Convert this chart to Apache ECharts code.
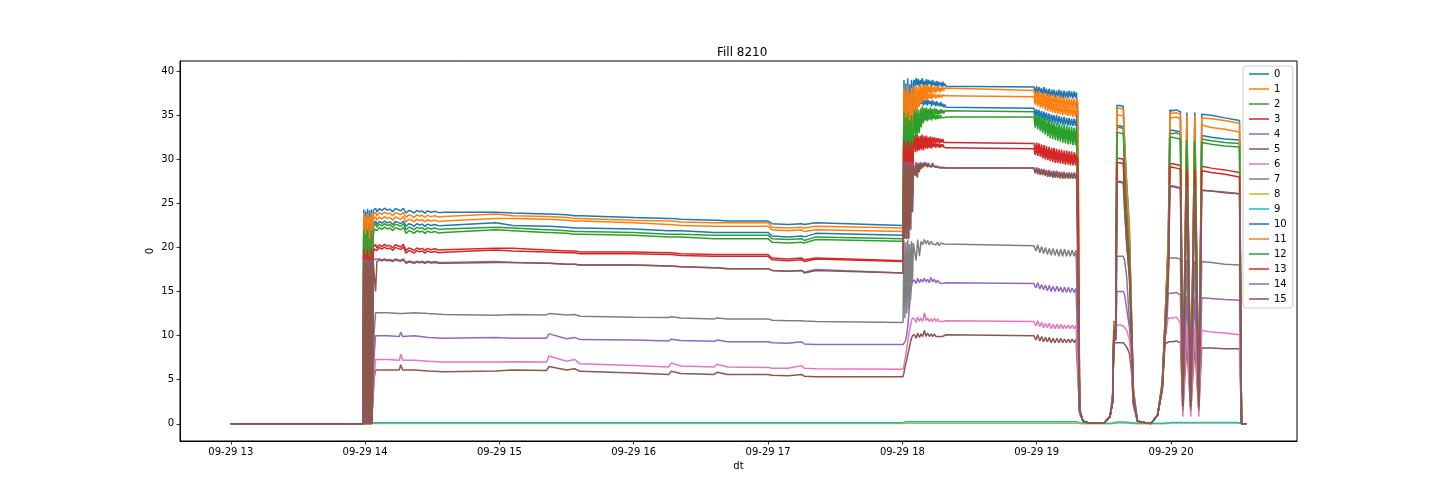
<!DOCTYPE html>
<html>
<head>
<meta charset="utf-8">
<script src="https://cdn.jsdelivr.net/npm/echarts@6/dist/echarts.min.js"></script>
<style>
html,body{margin:0;padding:0;background:#fff;}
#chart{width:1440px;height:504px;}
</style>
</head>
<body>
<div id="chart"></div>
<script>
// ---- time stamps (hours of 2023-09-29) ----
// T_HI: used by the upper series 0,1,2,3,10,11,12,13,14,15 (denser where their traces are noisy)
const T_HI = [
13.00, 13.985,
13.990, 13.997, 14.004, 14.011, 14.018, 14.025, 14.032, 14.039, 14.046, 14.053, 14.060,
14.068, 14.078, 14.088, 14.105, 14.125, 14.145, 14.165, 14.185, 14.205, 14.225, 14.245, 14.265, 14.285,
14.305, 14.325, 14.345, 14.365, 14.385, 14.405, 14.425, 14.445, 14.465, 14.49, 14.52, 14.55, 14.586,
14.973, 15.10, 15.35, 15.37, 15.50, 15.56, 15.60, 16.00, 16.26, 16.28, 16.35, 16.60, 16.62, 16.70,
17.00, 17.03, 17.15, 17.25, 17.27, 17.356,
18.005,
18.012, 18.019, 18.026, 18.033, 18.040, 18.047, 18.054, 18.061, 18.068, 18.075, 18.082,
18.088, 18.096, 18.103, 18.111, 18.118, 18.126, 18.134, 18.141, 18.149, 18.156, 18.164, 18.172, 18.179, 18.187, 18.194, 18.202,
18.210, 18.217, 18.225, 18.232, 18.240, 18.248, 18.255, 18.263, 18.270, 18.278, 18.286, 18.293, 18.301, 18.308, 18.316, 18.324,
18.980, 18.989, 18.999, 19.008, 19.017, 19.027, 19.036, 19.045, 19.055, 19.064, 19.073, 19.083, 19.092, 19.101, 19.111, 19.120, 19.129, 19.139,
19.148, 19.157, 19.167, 19.176, 19.185, 19.195, 19.204, 19.213, 19.223, 19.232, 19.241, 19.251, 19.260, 19.269, 19.279, 19.288, 19.297, 19.307,
19.32, 19.345, 19.40,
19.50, 19.545, 19.565, 19.575, 19.59, 19.597,
19.62, 19.645,
19.655, 19.67, 19.69, 19.705, 19.72, 19.75,
19.85,
19.90, 19.935, 19.955, 19.965, 19.98, 19.992,
20.01, 20.04, 20.07,
20.088, 20.118, 20.147, 20.177, 20.207, 20.229,
20.30, 20.40, 20.51,
20.525, 20.56
];
// T_LO: used by the lower series 4,5,6,7
const T_LO = [
13.00, 13.985,
13.990, 13.997, 14.004, 14.011, 14.018, 14.025, 14.032, 14.039, 14.046, 14.053, 14.060,
14.068, 14.078, 14.088, 14.17, 14.255, 14.265, 14.28, 14.37, 14.47, 14.586,
14.973, 15.10, 15.35, 15.37, 15.50, 15.56, 15.60, 16.00, 16.26, 16.28, 16.35, 16.60, 16.62, 16.70,
17.00, 17.03, 17.15, 17.25, 17.27, 17.356,
18.005,
18.012, 18.019, 18.026, 18.033, 18.040, 18.047, 18.054, 18.061, 18.068, 18.075, 18.082,
18.090, 18.102, 18.114, 18.127, 18.139, 18.151, 18.164, 18.176, 18.188, 18.201,
18.213, 18.225, 18.238, 18.250, 18.262, 18.275, 18.287, 18.299, 18.312, 18.324,
18.980, 18.994, 19.008, 19.023, 19.037, 19.051, 19.065, 19.080, 19.094, 19.108, 19.122, 19.136,
19.151, 19.165, 19.179, 19.193, 19.207, 19.222, 19.236, 19.250, 19.264, 19.279, 19.293, 19.307,
19.32, 19.345, 19.40,
19.50, 19.545, 19.565, 19.575, 19.59, 19.597,
19.62, 19.645,
19.655, 19.67, 19.69, 19.705, 19.72, 19.75,
19.85,
19.90, 19.935, 19.955, 19.965, 19.98, 19.992,
20.01, 20.04, 20.07,
20.088, 20.118, 20.147, 20.177, 20.207, 20.229,
20.30, 20.40, 20.51,
20.525, 20.56
];

const s0 = [0,0,
24.3,0,24.1,0,24.4,0,24.2,0,24.3,0,24.2,
24.25,24.45,24.05,24.4,24.2,24.45,24.25,24.35,24.05,24.4,24.3,24.15,24.45,
23.9,24.2,24.1,23.9,24.2,24.05,24.15,23.9,24.15,24.0,24.1,23.95,24.0,
24.0,23.9,23.8,23.8,23.7,23.6,23.6,23.4,23.3,23.3,23.2,23.1,23.1,23.0,
23.0,22.7,22.6,22.7,22.6,22.8,
22.5,
39.0,24,38.6,24,39.2,24,38.5,25,39.0,26,38.7,
39.0,38.3,39.2,38.4,39.1,38.2,39.0,38.5,39.2,38.3,38.9,38.4,39.1,38.3,39.0,38.5,38.9,38.2,39.0,38.4,38.8,38.3,38.9,38.2,38.8,38.4,38.7,38.2,38.8,38.3,38.6,38.3,
38.2,37.5,38.3,37.4,38.2,37.5,38.1,37.3,38.2,37.4,38.0,37.2,38.0,37.1,37.9,37.2,37.9,37.0,37.8,37.1,37.9,37.0,37.8,36.9,37.8,37.0,37.7,36.9,37.8,37.0,37.7,36.9,37.7,37.0,37.6,37.5,
1.5,0.3,0.05,
0.1,0.8,2.5,11.6,11.6,36.1,
36.1,36.0,
32.0,27.5,22.4,13.0,4.0,0.3,
0.02,
1.0,4.8,11.6,11.7,21.4,35.6,
35.5,35.6,35.4,
2.0,35.3,2.0,35.3,2.0,35.1,
35.0,34.7,34.4,
0,0];

const s1 = [0,0,
23.9,0,23.6,0,23.8,0,23.5,0,23.9,0,23.7,
23.8,24.0,23.6,23.95,23.75,24.0,23.8,23.9,23.6,23.95,23.85,23.7,24.0,
23.4,23.7,23.6,23.4,23.7,23.55,23.65,23.4,23.65,23.5,23.6,23.45,23.5,
23.8,23.6,23.5,23.5,23.4,23.3,23.3,23.1,23.0,23.0,22.9,22.8,22.8,22.8,
22.8,22.3,22.2,22.3,22.2,22.4,
22.2,
38.2,24,37.8,24,38.3,24,37.5,25,38.1,26,37.2,
38.3,36.0,38.4,35.8,38.2,36.5,38.5,36.9,38.3,37.2,38.4,37.4,38.5,37.3,38.3,37.5,38.4,37.4,38.2,37.6,38.3,37.5,38.2,37.7,38.3,37.6,38.1,37.7,38.2,37.8,38.1,38.0,
37.8,36.8,37.7,36.7,37.8,36.6,37.6,36.5,37.5,36.4,37.5,36.3,37.4,36.2,37.3,36.1,37.3,36.0,37.2,36.0,37.1,35.9,37.1,35.9,37.0,35.8,37.0,35.8,36.9,35.8,36.9,35.7,36.9,35.8,36.8,36.4,
1.5,0.3,0.05,
0.1,0.8,2.5,11.5,11.5,35.8,
35.8,35.7,
31.3,27.0,22.0,12.8,3.8,0.3,
0.02,
1.0,4.7,11.5,11.6,21.0,35.3,
35.2,35.3,35.1,
2.0,35.0,2.0,35.0,2.0,34.7,
34.6,34.4,34.1,
0,0];

const s2 = [0,0,
22.4,0,22.2,0,22.5,0,22.3,0,22.4,0,22.3,
22.5,22.7,22.3,22.65,22.45,22.7,22.5,22.6,22.3,22.65,22.55,22.4,22.7,
22.0,22.3,22.2,22.0,22.3,22.15,22.25,22.0,22.25,22.1,22.2,22.05,22.1,
22.3,22.2,22.0,22.0,21.9,21.8,21.8,21.7,21.5,21.5,21.5,21.4,21.4,21.4,
21.4,21.0,20.9,21.0,20.8,21.2,
21.0,
35.8,24,35.4,24,35.9,24,35.0,25,35.6,26,34.5,
35.8,33.0,35.9,32.8,35.6,33.5,35.8,34.0,36.0,34.6,35.8,34.9,35.9,34.8,35.7,35.0,35.9,34.9,35.7,35.0,35.8,35.1,35.7,35.0,35.6,35.1,35.7,35.2,35.6,35.2,35.5,35.4,
35.4,34.2,35.2,34.0,35.1,33.8,34.9,33.6,34.8,33.4,34.6,33.2,34.5,33.0,34.4,32.9,34.2,32.8,34.1,32.7,34.0,32.6,33.9,32.5,33.9,32.4,33.8,32.3,33.7,32.3,33.7,32.2,33.6,32.2,33.6,33.4,
1.5,0.3,0.05,
0.1,0.8,2.5,11.2,11.2,33.6,
33.6,33.5,
29.3,24.5,19.8,11.9,3.3,0.3,
0.02,
1.0,4.4,11.0,11.1,19.1,33.0,
32.9,33.0,32.8,
2.0,32.7,2.0,32.6,2.0,32.3,
32.1,31.9,31.8,
0,0];

const s3 = [0,0,
20.2,0,20.0,0,20.3,0,20.1,0,20.2,0,20.0,
20.15,20.35,19.95,20.3,20.1,20.35,20.15,20.25,19.95,20.3,20.2,20.05,20.35,
19.65,19.95,19.85,19.65,19.95,19.8,19.9,19.65,19.9,19.75,19.85,19.7,19.75,
19.9,19.9,19.7,19.7,19.6,19.6,19.5,19.5,19.4,19.4,19.3,19.2,19.2,19.2,
19.2,18.8,18.7,18.8,18.6,18.8,
18.5,
32.6,24,32.2,24,32.7,24,32.0,25,32.5,26,32.2,
32.7,31.4,32.8,31.5,32.6,31.6,32.7,31.7,32.8,31.6,32.6,31.8,32.7,31.7,32.5,31.8,32.6,31.7,32.5,31.9,32.5,31.8,32.4,31.9,32.4,31.8,32.3,31.9,32.3,31.9,32.1,31.9,
31.8,31.0,31.9,30.9,31.8,30.8,31.7,30.6,31.6,30.5,31.5,30.4,31.4,30.3,31.3,30.2,31.3,30.1,31.2,30.0,31.1,29.9,31.1,29.9,31.0,29.8,31.0,29.8,30.9,29.7,30.9,29.7,30.8,29.7,30.8,30.5,
1.5,0.3,0.05,
0.1,0.8,2.5,10.8,10.8,30.1,
30.1,30.0,
26.0,22.0,18.3,11.2,3.0,0.3,
0.02,
1.0,4.2,10.5,10.6,17.7,29.5,
29.5,29.4,29.3,
2.0,29.3,2.0,29.3,2.0,29.2,
29.0,28.8,28.5,
0,0];

const s4 = [0,0,
0,0,0,0,0,0,0,0,0,0,0,
8.0,10.0,9.9,10.0,9.9,10.4,9.9,10.0,9.8,9.7,
9.8,9.7,9.7,10.2,9.65,9.8,9.55,9.5,9.4,9.6,9.45,9.35,9.5,9.3,
9.3,9.2,9.15,9.3,9.05,9.0,
9.0,
9.1,9.3,9.6,10.2,11.0,12.2,13.5,14.7,15.6,16.1,16.3,
16.3,15.9,16.5,16.0,16.4,16.1,16.5,16.1,16.4,16.0,16.6,16.1,16.4,16.0,16.3,16.0,16.2,15.9,16.1,16.0,
15.9,15.4,16.0,15.3,15.8,15.2,15.7,15.1,15.7,15.0,15.6,15.0,15.6,15.0,15.5,14.9,15.5,14.9,15.5,14.9,15.4,14.9,15.4,15.3,
1.2,0.3,0.05,
0.1,0.8,2.5,10.0,10.0,15.0,
15.0,15.0,
14.6,13.0,11.0,8.5,2.3,0.3,
0.02,
1.0,4.0,10.0,10.3,14.8,14.8,
14.8,14.9,14.6,
1.5,14.5,1.5,14.4,1.5,14.3,
14.2,14.1,14.0,
0,0];

const s5 = [0,0,
0,0,0,0,0,0,0,0,0,0,0,
5.2,6.1,6.0,6.1,6.1,6.7,6.1,6.1,6.0,5.9,
6.0,6.1,6.05,6.5,6.1,6.25,5.95,5.75,5.6,5.95,5.7,5.6,5.85,5.6,
5.6,5.5,5.45,5.6,5.4,5.35,
5.35,
5.8,6.4,6.9,7.3,7.8,8.3,8.8,9.3,9.7,10.0,10.1,
10.1,9.7,10.3,9.8,10.2,9.9,10.6,9.9,10.3,9.9,10.2,9.9,10.2,9.9,10.1,9.9,10.1,9.9,10.1,10.1,
10.0,9.5,10.1,9.4,9.9,9.3,9.8,9.3,9.8,9.2,9.7,9.2,9.7,9.2,9.7,9.2,9.6,9.2,9.6,9.2,9.6,9.2,9.6,9.5,
1.2,0.3,0.05,
0.1,0.8,2.5,9.2,9.2,9.2,
9.2,9.2,
9.0,8.7,8.0,6.0,2.0,0.3,
0.02,
1.0,3.8,9.0,9.2,9.3,9.3,
9.3,9.4,9.2,
1.5,9.0,1.5,8.8,1.5,8.6,
8.6,8.5,8.5,
0,0];

const s6 = [0,0,
0,0,0,0,0,0,0,0,0,0,0,
5.5,7.3,7.2,7.3,7.2,7.9,7.2,7.2,7.1,7.0,
7.0,7.05,7.0,7.7,7.1,7.3,6.8,6.6,6.45,6.9,6.55,6.45,6.75,6.45,
6.4,6.3,6.3,6.6,6.3,6.25,
6.2,
6.6,7.2,7.9,8.6,9.3,10.0,10.6,11.2,11.7,12.0,12.1,
11.9,11.5,12.1,11.6,12.0,11.6,12.6,11.7,12.0,11.6,11.9,11.6,12.0,11.6,11.9,11.6,11.8,11.6,11.8,11.7,
11.6,11.1,11.7,11.0,11.5,10.9,11.4,10.9,11.4,10.8,11.3,10.8,11.3,10.8,11.3,10.8,11.2,10.8,11.2,10.8,11.2,10.8,11.2,11.1,
1.2,0.3,0.05,
0.1,0.9,3.5,10.7,10.7,11.2,
11.2,11.1,
11.0,10.6,9.6,7.0,2.2,0.3,
0.02,
1.0,4.2,10.3,10.5,12.0,12.0,
12.0,12.1,11.4,
0.8,11.0,0.8,10.8,0.8,10.6,
10.4,10.3,10.1,
0,0];

const s7 = [0,0,
0,0,0,0,0,0,0,0,0,0,0,
10.5,12.6,12.5,12.6,12.5,12.7,12.5,12.6,12.5,12.4,
12.3,12.4,12.35,12.5,12.35,12.4,12.2,12.1,12.05,12.15,12.0,11.9,12.0,11.9,
11.9,11.75,11.7,11.7,11.65,11.6,
11.5,
20.8,12,20.6,12.5,20.9,13,20.4,14,20.7,16,20.5,
20.5,18.5,20.9,19.0,20.7,20.3,20.9,20.4,20.8,20.3,20.7,20.4,20.6,20.3,20.6,20.2,20.5,20.3,20.4,20.3,
20.2,19.6,20.3,19.4,20.1,19.3,20.0,19.2,19.9,19.1,19.9,19.1,19.8,19.0,19.8,19.0,19.8,19.0,19.7,19.0,19.7,19.0,19.7,19.6,
1.2,0.3,0.05,
0.1,0.8,2.5,10.0,10.0,19.0,
19.0,19.0,
18.5,16.7,11.6,9.5,2.5,0.3,
0.02,
1.0,4.0,10.0,10.2,18.8,18.8,
18.8,18.8,18.7,
1.6,18.6,1.6,18.5,1.6,18.4,
18.3,18.1,18.0,
0,0];

// series 8 and 9 stay close to zero: own, shorter time list
const T89 = [13.00, 13.99, 14.07, 16.0, 18.00, 18.02, 19.30, 19.35, 19.55, 19.60, 19.65, 19.75, 19.95, 20.0, 20.5, 20.53];
const s8  = [0, 0, 0.03, 0.03, 0.03, 0.05, 0.05, 0.0, 0.0, 0.1, 0.1, 0.0, 0.0, 0.08, 0.08, 0.0];
const s9  = [0, 0, 0.12, 0.12, 0.12, 0.22, 0.22, 0.05, 0.05, 0.2, 0.2, 0.05, 0.05, 0.15, 0.15, 0.0];

const s10 = [0,0,
22.8,0,22.6,0,22.9,0,22.7,0,22.8,0,22.6,
22.8,23.0,22.6,22.95,22.75,23.0,22.8,22.9,22.6,22.95,22.85,22.7,23.0,
22.4,22.7,22.6,22.4,22.7,22.55,22.65,22.4,22.65,22.5,22.6,22.45,22.5,
22.8,22.5,22.4,22.4,22.3,22.2,22.2,22.1,21.9,21.9,21.9,21.7,21.7,21.7,
21.7,21.3,21.2,21.3,21.2,21.6,
21.4,
36.6,24,36.3,24,36.8,24,36.2,25,36.6,26,36.4,
36.8,36.1,36.9,36.2,36.8,36.0,36.9,36.3,36.8,36.1,36.7,36.2,36.8,36.1,36.7,36.3,36.6,36.0,36.7,36.2,36.5,36.0,36.6,36.1,36.4,36.0,36.5,36.0,36.3,35.9,36.2,35.9,
35.8,35.0,35.7,34.9,35.6,34.8,35.5,34.6,35.4,34.5,35.3,34.4,35.2,34.3,35.1,34.2,35.0,34.1,35.0,34.0,34.9,34.0,34.8,33.9,34.8,33.9,34.7,33.8,34.7,33.8,34.6,33.8,34.6,33.8,34.6,34.4,
1.5,0.3,0.05,
0.1,0.8,2.5,11.3,11.3,33.8,
33.8,33.7,
29.5,25.0,20.2,12.0,3.4,0.3,
0.02,
1.0,4.5,11.2,11.3,19.8,33.3,
33.3,33.2,33.1,
2.0,33.0,2.0,32.9,2.0,32.7,
32.5,32.3,32.2,
0,0];

const s11 = [0,0,
23.3,0,23.0,0,23.2,0,22.9,0,23.3,0,23.1,
23.3,23.5,23.1,23.45,23.25,23.5,23.3,23.4,23.1,23.45,23.35,23.2,23.5,
22.9,23.2,23.1,22.9,23.2,23.05,23.15,22.9,23.15,23.0,23.1,22.95,23.0,
23.3,23.3,23.2,23.2,23.1,23.0,23.0,22.8,22.6,22.6,22.5,22.4,22.4,22.4,
22.4,22.0,21.9,22.0,21.8,22.0,
21.8,
37.6,24,37.2,24,37.7,24,36.9,25,37.5,26,36.5,
37.5,35.6,37.6,35.4,37.4,36.0,37.6,36.4,37.5,36.6,37.6,36.8,37.5,36.7,37.4,36.9,37.5,36.8,37.4,37.0,37.4,36.9,37.3,37.0,37.4,37.0,37.3,37.0,37.3,37.1,37.2,37.2,
37.1,36.2,37.0,36.0,36.9,35.9,36.8,35.8,36.7,35.6,36.6,35.5,36.5,35.4,36.4,35.3,36.3,35.2,36.3,35.1,36.2,35.1,36.1,35.0,36.1,35.0,36.0,34.9,36.0,34.9,35.9,34.8,35.9,34.8,35.8,35.5,
1.5,0.3,0.05,
0.1,0.8,2.5,11.4,11.4,35.0,
35.0,34.9,
30.5,26.0,21.0,12.5,3.6,0.3,
0.02,
1.0,4.6,11.4,11.5,20.6,34.8,
34.7,34.8,34.6,
2.0,34.4,2.0,34.3,2.0,33.9,
33.6,33.4,33.1,
0,0];

const s12 = [0,0,
22.0,0,21.5,0,22.0,0,21.0,0,21.9,0,21.2,
22.1,22.3,21.9,22.25,22.05,22.3,22.1,22.2,21.9,22.25,22.15,22.0,22.3,
21.6,21.9,21.8,21.6,21.9,21.75,21.85,21.6,21.85,21.7,21.8,21.65,21.7,
22.0,21.9,21.7,21.7,21.6,21.5,21.5,21.4,21.2,21.2,21.2,21.0,21.0,21.0,
21.0,20.6,20.5,20.6,20.5,20.9,
20.7,
35.3,24,34.8,24,35.2,24,34.4,25,35.0,26,33.8,
35.2,32.6,35.3,32.5,35.0,33.0,35.2,33.6,35.3,34.1,35.2,34.4,35.3,34.3,35.1,34.5,35.2,34.4,35.1,34.6,35.1,34.5,35.0,34.6,35.0,34.6,35.0,34.7,34.9,34.7,34.9,34.8,
34.8,33.6,34.6,33.4,34.5,33.2,34.3,33.0,34.2,32.8,34.0,32.6,33.9,32.4,33.8,32.3,33.6,32.2,33.5,32.1,33.4,32.0,33.3,31.9,33.3,31.8,33.2,31.7,33.1,31.7,33.1,31.6,33.0,31.6,33.0,32.9,
1.5,0.3,0.05,
0.1,0.8,2.5,11.1,11.1,33.0,
33.0,32.9,
28.8,24.0,19.3,11.7,3.2,0.3,
0.02,
1.0,4.3,10.9,11.0,18.5,32.5,
32.5,32.4,32.3,
2.0,32.2,2.0,32.1,2.0,31.9,
31.7,31.5,31.4,
0,0];

const s13 = [0,0,
19.9,0,19.2,0,19.8,0,19.0,0,19.9,0,19.3,
19.85,20.05,19.65,20.0,19.8,20.05,19.85,19.95,19.65,20.0,19.9,19.75,20.05,
19.35,19.65,19.55,19.35,19.65,19.5,19.6,19.35,19.6,19.45,19.55,19.4,19.45,
19.7,19.6,19.5,19.5,19.4,19.4,19.3,19.3,19.2,19.2,19.1,19.0,19.0,19.0,
19.0,18.6,18.5,18.6,18.4,18.7,
18.4,
32.1,24,31.8,24,32.2,24,31.5,25,32.0,26,31.7,
32.1,30.8,32.2,30.9,32.0,31.0,32.2,31.1,32.2,31.0,32.0,31.2,32.1,31.2,31.9,31.3,32.0,31.2,31.9,31.4,31.9,31.3,31.8,31.4,31.8,31.3,31.7,31.4,31.7,31.4,31.5,31.3,
31.2,30.5,31.3,30.4,31.2,30.3,31.1,30.1,31.0,30.0,30.9,29.9,30.8,29.8,30.8,29.7,30.7,29.6,30.6,29.6,30.5,29.5,30.5,29.5,30.4,29.4,30.4,29.4,30.3,29.3,30.3,29.3,30.3,29.3,30.3,30.0,
1.5,0.3,0.05,
0.1,0.8,2.5,10.6,10.6,29.6,
29.6,29.5,
25.5,21.5,17.5,11.0,2.9,0.3,
0.02,
1.0,4.1,10.3,10.4,17.0,29.1,
29.1,29.0,28.9,
2.0,28.9,2.0,28.8,2.0,28.7,
28.5,28.3,28.0,
0,0];

const s14 = [0,0,
18.6,0,18.5,0,18.6,0,18.5,0,18.6,0,18.5,
18.6,18.7,18.5,18.7,18.6,18.7,18.6,18.65,18.5,18.7,18.6,18.55,18.7,
18.3,18.45,18.4,18.3,18.45,18.35,18.45,18.3,18.45,18.35,18.4,18.3,18.3,
18.4,18.3,18.2,18.2,18.1,18.1,18.0,18.0,17.9,17.9,17.8,17.7,17.7,17.6,
17.6,17.4,17.3,17.4,17.2,17.5,
17.1,
29.7,21,29.6,21,29.7,21,29.5,22,29.6,24,29.5,
29.6,28.3,29.7,28.0,29.6,28.6,29.7,29.0,29.6,29.2,29.7,29.3,29.6,29.2,29.6,29.3,29.5,29.2,29.6,29.3,29.5,29.2,29.4,29.2,29.4,29.1,29.3,29.1,29.3,29.1,29.2,29.0,
29.0,28.5,29.1,28.4,29.0,28.3,28.9,28.3,28.9,28.2,28.8,28.1,28.8,28.1,28.7,28.0,28.7,28.0,28.7,28.0,28.6,27.9,28.6,27.9,28.6,27.9,28.5,27.9,28.5,27.9,28.5,27.9,28.5,27.9,28.5,28.3,
1.5,0.3,0.05,
0.1,0.8,2.5,9.6,9.6,27.5,
27.5,27.4,
24.2,20.5,16.8,10.5,2.7,0.3,
0.02,
1.0,4.0,9.6,9.7,16.4,27.0,
27.0,26.9,26.8,
2.1,26.8,2.1,26.7,2.1,26.5,
26.4,26.3,26.1,
0,0];

const s15 = [0,0,
18.5,0,18.4,0,18.5,0,18.4,0,18.5,0,18.4,
18.5,15.0,18.4,18.6,18.5,18.6,18.5,18.55,18.4,18.6,18.5,18.45,18.6,
18.2,18.35,18.3,18.2,18.35,18.25,18.35,18.2,18.35,18.25,18.3,18.2,18.2,
18.3,18.3,18.2,18.2,18.1,18.1,18.0,18.0,17.9,17.9,17.8,17.7,17.7,17.6,
17.6,17.4,17.3,17.4,17.1,17.4,
17.1,
29.6,21,29.5,21,29.6,21,29.4,22,29.5,24,29.4,
29.5,28.1,29.6,27.9,29.5,28.5,29.6,28.9,29.5,29.1,29.6,29.2,29.5,29.1,29.5,29.2,29.4,29.1,29.5,29.2,29.4,29.1,29.3,29.1,29.3,29.0,29.2,29.0,29.2,29.0,29.1,29.0,
29.0,28.4,29.0,28.3,28.9,28.2,28.9,28.2,28.8,28.1,28.7,28.0,28.7,28.0,28.6,27.9,28.6,27.9,28.6,27.9,28.5,27.8,28.5,27.8,28.5,27.8,28.4,27.8,28.4,27.8,28.4,27.8,28.4,27.8,28.4,28.2,
1.5,0.3,0.05,
0.1,0.8,2.5,9.5,9.5,27.4,
27.4,27.3,
24.2,20.4,16.7,10.4,2.6,0.3,
0.02,
1.0,3.9,9.5,9.6,16.3,26.9,
26.9,26.8,26.7,
2.1,26.7,2.1,26.6,2.1,26.5,
26.4,26.2,26.1,
0,0];

const seriesNames = ['0','1','2','3','4','5','6','7','8','9','10','11','12','13','14','15'];
const xTickValues = [13, 14, 15, 16, 17, 18, 19, 20];
const xTickLabels = ['09-29 13','09-29 14','09-29 15','09-29 16','09-29 17','09-29 18','09-29 19','09-29 20'];
const yTickValues = [0, 5, 10, 15, 20, 25, 30, 35, 40];
const titleText = 'Fill 8210';
const xName = 'dt';
const yName = '0';

// ---- assembly ----
const palette = ['#1f77b4','#ff7f0e','#2ca02c','#d62728','#9467bd','#8c564b','#e377c2','#7f7f7f','#bcbd22','#17becf'];
const valueLists = [s0,s1,s2,s3,s4,s5,s6,s7,s8,s9,s10,s11,s12,s13,s14,s15];
function timesFor(i) {
  if (i === 8 || i === 9) return T89;
  if (i >= 4 && i <= 7) return T_LO;
  return T_HI;
}
valueLists.forEach((v, i) => {
  const tl = timesFor(i);
  if (v.length !== tl.length) throw new Error('length mismatch series ' + i + ': ' + v.length + ' vs ' + tl.length);
});
const FONT = 'DejaVu Sans';
const series = valueLists.map((vals, i) => {
  const tl = timesFor(i);
  const c = palette[i % 10];
  return {
    name: seriesNames[i],
    type: 'line',
    data: tl.map((t, k) => [t, vals[k]]),
    symbol: 'none',
    showSymbol: false,
    animation: false,
    silent: true,
    lineStyle: { width: 1.5, color: c },
    itemStyle: { color: c },
    emphasis: { disabled: true }
  };
});

const chart = echarts.init(document.getElementById('chart'), null, { renderer: 'canvas' });
chart.setOption({
  animation: false,
  backgroundColor: '#ffffff',
  title: {
    text: titleText,
    left: 712, top: 42,
    textStyle: { fontFamily: FONT, fontSize: 12, fontWeight: 'normal', color: '#000' }
  },
  legend: {
    orient: 'vertical',
    left: 1243, top: 66,
    padding: [2, 6, 3, 6],
    itemGap: 3,
    itemWidth: 20, itemHeight: 12,
    itemTextGap: 5,
    icon: 'path://M0,5L20,5L20,6.5L0,6.5Z',
    selectedMode: false,
    borderColor: '#cccccc', borderWidth: 1, borderRadius: 3,
    backgroundColor: 'rgba(255,255,255,0.8)',
    textStyle: { fontFamily: FONT, fontSize: 10, color: '#000', lineHeight: 12 },
    data: seriesNames
  },
  grid: {
    left: 180, right: 143, top: 61, bottom: 63,
    show: true, borderColor: '#000', borderWidth: 1, backgroundColor: 'transparent'
  },
  xAxis: {
    type: 'value',
    min: 12.622, max: 20.938,
    name: xName, nameLocation: 'middle', nameGap: 20, nameMoveOverlap: false,
    nameTextStyle: { fontFamily: FONT, fontSize: 10, color: '#000' },
    axisLine: { show: true, onZero: false, lineStyle: { color: '#000', width: 1 } },
    axisTick: { show: true, length: 3.5, lineStyle: { color: '#000', width: 0.8 }, customValues: xTickValues },
    axisLabel: {
      fontFamily: FONT, fontSize: 10, color: '#000', margin: 6,
      customValues: xTickValues,
      formatter: v => { const k = xTickValues.indexOf(Math.round(v)); return k >= 0 ? xTickLabels[k] : ''; }
    },
    splitLine: { show: false }
  },
  yAxis: {
    type: 'value',
    min: -1.95, max: 41.15,
    name: yName, nameLocation: 'middle', nameGap: 25, nameRotate: 90, nameMoveOverlap: false,
    nameTextStyle: { fontFamily: FONT, fontSize: 10, color: '#000' },
    axisLine: { show: true, onZero: false, lineStyle: { color: '#000', width: 1 } },
    axisTick: { show: true, length: 3.5, lineStyle: { color: '#000', width: 0.8 }, customValues: yTickValues },
    axisLabel: {
      fontFamily: FONT, fontSize: 10, color: '#000', margin: 6,
      customValues: yTickValues,
      formatter: v => String(Math.round(v))
    },
    splitLine: { show: false }
  },
  series: series
});
</script>
</body>
</html>
